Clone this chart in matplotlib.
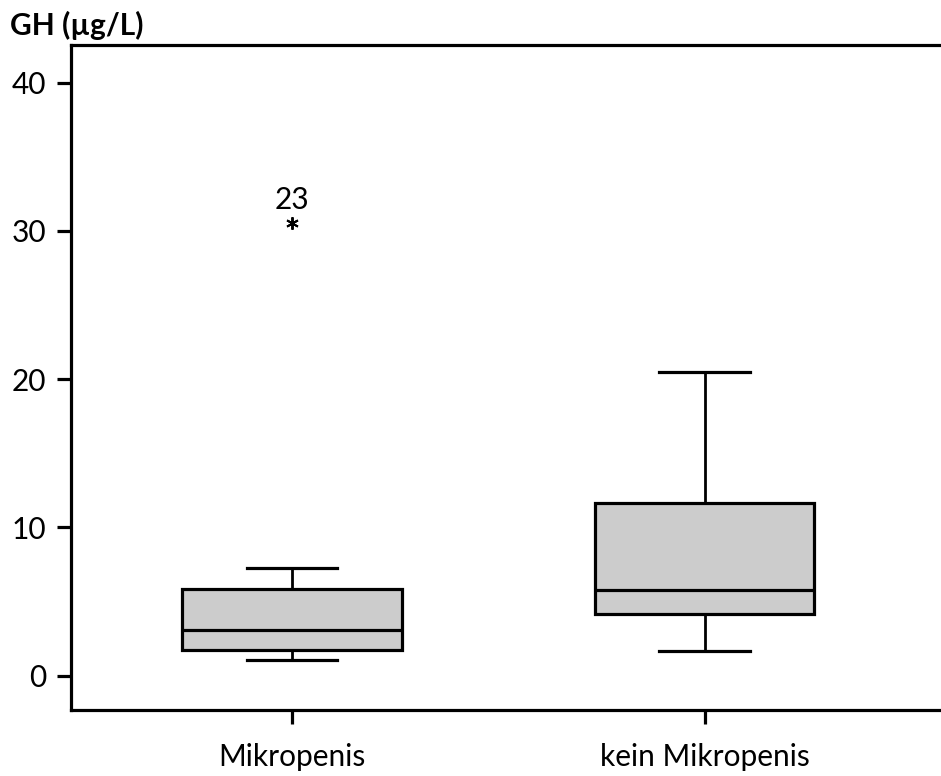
import matplotlib
matplotlib.use("Agg")
import matplotlib.pyplot as plt

plt.rcParams['font.family'] = ['Lato', 'DejaVu Sans']

categories = ["Mikropenis", "kein Mikropenis"]
whisker_low = [1.03, 1.64]
q1 = [1.71, 4.14]
median = [3.10, 5.76]
q3 = [5.87, 11.65]
whisker_high = [7.29, 20.47]
outliers = [[30.5], []]
outlier_labels = [["23"], []]
yticks = [0, 10, 20, 30, 40]

fig = plt.figure(figsize=(9.41, 7.76), dpi=100)
ax = fig.add_axes([71/941, 1-710/776, 1-71/941, (710-45)/776])

stats = []
for i, c in enumerate(categories):
    stats.append(dict(label=c, whislo=whisker_low[i], q1=q1[i], med=median[i],
                      q3=q3[i], whishi=whisker_high[i], fliers=outliers[i]))

positions = list(range(1, len(categories) + 1))
ax.bxp(stats, positions=positions, widths=0.533, capwidths=0.22, patch_artist=True,
       boxprops=dict(facecolor="#cccccc", edgecolor="black", linewidth=2.3),
       medianprops=dict(color="black", linewidth=2.3),
       whiskerprops=dict(color="black", linewidth=2.0),
       capprops=dict(color="black", linewidth=2.3),
       flierprops=dict(marker=(6, 2, 0), markersize=9, markeredgecolor="black",
                       markeredgewidth=1.4, linestyle="none"))

for i, (vals, labs) in enumerate(zip(outliers, outlier_labels)):
    for v, l in zip(vals, labs):
        ax.annotate(l, (positions[i], v), xytext=(0, 7), textcoords="offset points",
                    ha="center", va="bottom", fontsize=21.5)

ax.set_xlim(1 - (292-71)/412.5, 2 + (941-704.5)/412.5)
ax.set_ylim(-2.32, 42.53)
ax.set_yticks(yticks)
ax.set_yticklabels([str(t) for t in yticks])
ax.set_xticks(positions)
ax.set_xticklabels(categories)

ax.spines['right'].set_visible(False)
for s in ['left', 'top', 'bottom']:
    ax.spines[s].set_linewidth(2.3)
ax.tick_params(axis='both', direction='out', length=10, width=2.3, labelsize=21.5, pad=8)
ax.tick_params(axis='x', pad=14)

fig.text(10/941, 1-35/776, "GH (µg/L)", fontsize=21.5, fontweight="bold", ha="left", va="baseline")

fig.savefig("out.png", dpi=100)
